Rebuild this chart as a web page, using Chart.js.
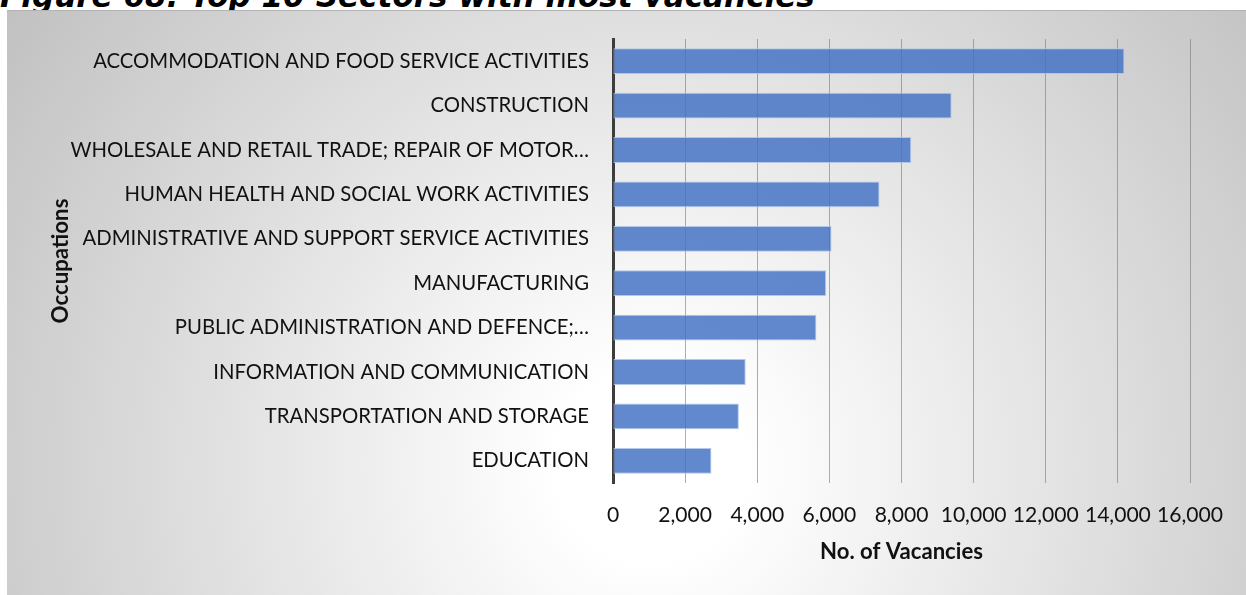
<!DOCTYPE html>
<html>
<head>
<meta charset="utf-8">
<script src="https://cdn.jsdelivr.net/npm/chart.js@4.4.1/dist/chart.umd.min.js"></script>
<style>
html,body{margin:0;padding:0;background:#fff;width:1246px;height:595px;overflow:hidden;}
#title{position:absolute;left:0;top:-14px;font-family:"DejaVu Sans";font-weight:bold;font-style:italic;white-space:nowrap;line-height:1;color:#000;z-index:1;}
#box{position:absolute;left:7px;top:10px;width:1239px;height:584px;border-top:1px solid #b3b3b3;
  background:radial-gradient(circle farthest-corner at 52% 78%, #ffffff 0%, #ffffff 12%, #c1c1c1 100%);z-index:2;}
canvas{display:block;}
</style>
</head>
<body>
<div id="title">Figure 68: Top 10 Sectors with most vacancies</div>
<div id="box"><canvas id="c" width="1239" height="584"></canvas></div>
<script>
// ---- data ----
const categories = [
  "ACCOMMODATION AND FOOD SERVICE ACTIVITIES",
  "CONSTRUCTION",
  "WHOLESALE AND RETAIL TRADE; REPAIR OF MOTOR\u2026",
  "HUMAN HEALTH AND SOCIAL WORK ACTIVITIES",
  "ADMINISTRATIVE AND SUPPORT SERVICE ACTIVITIES",
  "MANUFACTURING",
  "PUBLIC ADMINISTRATION AND DEFENCE;\u2026",
  "INFORMATION AND COMMUNICATION",
  "TRANSPORTATION AND STORAGE",
  "EDUCATION"
];
const vacancies = [14180, 9390, 8270, 7390, 6060, 5910, 5640, 3680, 3490, 2730];
const xTicks = [0, 2000, 4000, 6000, 8000, 10000, 12000, 14000, 16000];
const xTickLabels = ["0", "2,000", "4,000", "6,000", "8,000", "10,000", "12,000", "14,000", "16,000"];
const titleText = "Figure 68: Top 10 Sectors with most vacancies";
const xTitle = "No. of Vacancies";
const yTitle = "Occupations";

// ---- font sizing helpers ----
const mctx = document.createElement('canvas').getContext('2d');
function fitSize(text, family, target, weight) {
  mctx.font = (weight || '') + ' 100px ' + family;
  return 100 * target / mctx.measureText(text).width;
}
const FAM = 'Lato';
const catSize = fitSize(categories[0], FAM, 496, '');
const tickSize = fitSize("16,000", FAM, 66, '');
const xTitleSize = fitSize(xTitle, FAM, 163, 'bold');
const yTitleSize = fitSize(yTitle, FAM, 125, 'bold');

const tEl = document.getElementById('title');
const tSize = fitSize(titleText, '"DejaVu Sans"', 815, 'italic bold');
tEl.style.fontSize = tSize + 'px';
tEl.style.top = (7 - 0.846 * tSize) + 'px';

const padL = 30, padR = 56, padT = 28;
const plotLeft = 606, plotBottom = 472, H = 584;

new Chart(document.getElementById('c'), {
  type: 'bar',
  data: {
    labels: categories,
    datasets: [{
      data: vacancies,
      backgroundColor: 'rgba(68,114,196,0.84)',
      borderColor: 'rgba(175,196,232,0.95)',
      borderWidth: 1,
      borderSkipped: false,
      categoryPercentage: 1,
      barPercentage: 0.58
    }]
  },
  options: {
    indexAxis: 'y',
    responsive: false,
    animation: false,
    events: [],
    layout: { padding: { left: padL, right: padR, top: padT, bottom: 0 } },
    plugins: { legend: { display: false }, tooltip: { enabled: false } },
    scales: {
      x: {
        min: 0, max: 16000,
        afterBuildTicks: s => { s.ticks = xTicks.map(v => ({ value: v })); },
        afterFit: s => { s.height = H - plotBottom; },
        grid: { display: true, color: 'rgba(120,120,120,0.6)', lineWidth: 1, drawTicks: false },
        border: { display: false },
        ticks: {
          padding: 20,
          color: '#111',
          font: { family: FAM, size: tickSize },
          maxRotation: 0, autoSkip: false,
          callback: (v) => xTickLabels[xTicks.indexOf(v)]
        },
        title: {
          display: true, text: xTitle, color: '#111',
          font: { family: FAM, size: xTitleSize, weight: 'bold' },
          padding: { top: 0, bottom: 43 - xTitleSize * 0.6 }
        }
      },
      y: {
        z: 1,
        afterFit: s => { s.width = plotLeft - padL; s.paddingTop = 0; s.paddingBottom = 0; },
        grid: { display: false, drawTicks: false },
        border: { display: true, color: '#3d3d3d', width: 3 },
        ticks: {
          padding: 24, color: '#111', autoSkip: false,
          font: { family: FAM, size: catSize }
        },
        title: {
          display: true, text: yTitle, color: '#111',
          font: { family: FAM, size: yTitleSize, weight: 'bold' },
          padding: { top: 24 - yTitleSize * 0.6, bottom: 0 }
        }
      }
    }
  }
});
</script>
</body>
</html>
